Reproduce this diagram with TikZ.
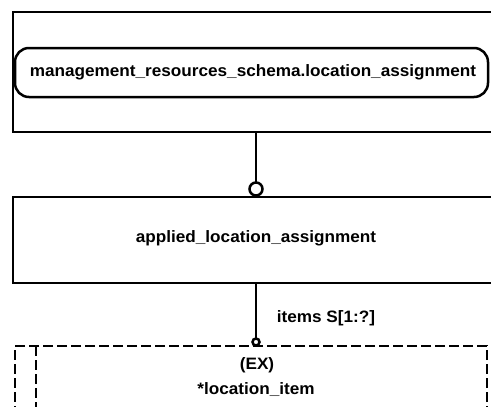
\documentclass[tikz,border=0pt]{standalone}
\usepackage{fontspec}
\newfontfamily\diagfont[FakeStretch=1.04]{Liberation Sans}
\usepackage{tikz}
\usetikzlibrary{arrows,shapes,positioning}

\begin{document}
\begin{tikzpicture}[x=1pt,y=-1pt]
                    \tikzstyle{every node}+=[inner sep=0pt, outer sep=0pt, font=\diagfont\bfseries\fontsize{16.5}{19}\selectfont]
                    \tikzstyle{entbox}=[draw=black, line width=2.5pt, rectangle]
                    \tikzstyle{refbox}=[draw=black, line width=2.5pt, rectangle, dash pattern=on 10pt off 4pt]
                    \tikzstyle{oring}=[draw=black, line width=2.5pt, circle, fill=white]
                    \useasboundingbox (0,0) rectangle (491,407);
                    \node [entbox, minimum width=480, minimum height=120] (schemabox) at (253,72) {};
                    \node [entbox, rounded corners=14pt, minimum width=473, minimum height=49] (schemaref) at (251.5,72.5) {};
                    \node (schematext) at (253,72) {management\_resources\_schema.location\_assignment};
                    \node [entbox, minimum width=480, minimum height=86] (applied) at (253,240) {};
                    \node (appliedtext) at (256,238) {applied\_location\_assignment};
                    \node [refbox, minimum width=472, minimum height=74] (item) at (251,383) {};
                    \draw [black, line width=2.5pt, dash pattern=on 10pt off 4pt] (36,346) -- (36,420);
                    \node (extext) at (257,365) {(EX)};
                    \node (itemtext) at (256,390) {*location\_item};
                    \node [oring, minimum size=13] (ring1) at (256,189) {};
                    \node [oring, minimum size=7] (ring2) at (256,342) {};
                    \draw [black, line width=2.5pt] (ring1) -- (ring1 |- schemabox.south);
                    \draw [black, line width=2pt] (ring2) -- (ring2 |- applied.south);
                    \node (itemslabel) at (326,318) {items S[1:?]};
                \end{tikzpicture}
\end{document}
